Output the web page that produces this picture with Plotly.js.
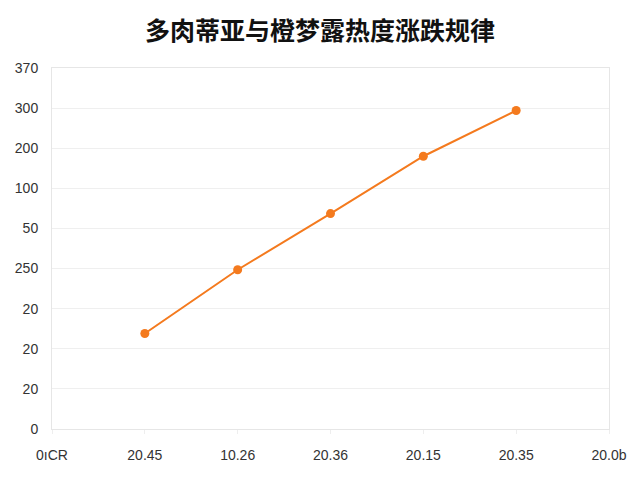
<!DOCTYPE html>
<html>
<head>
<meta charset="utf-8">
<script src="https://cdn.plot.ly/plotly-3.0.1.min.js"></script>
<style>
  html, body { margin: 0; padding: 0; background: #fff; }
  #chart { width: 640px; height: 480px; }
</style>
</head>
<body>
<div id="chart"></div>
<script>
var TITLE = "多肉蒂亚与橙梦露热度涨跌规律";

// x axis: tick labels as printed, at positions 0..6
var X_TICK_POS = [0, 1, 2, 3, 4, 5, 6];
var X_TICK_TEXT = ["0ıCR", "20.45", "10.26", "20.36", "20.15", "20.35", "20.0b"];

// y axis: gridline labels from bottom to top, at positions 0..9
var Y_TICK_POS = [0, 1, 2, 3, 4, 5, 6, 7, 8, 9];
var Y_TICK_TEXT = ["0", "20", "20", "20", "250", "50", "100", "200", "300", "370"];

// series, in grid-step units
var POINT_X = [1, 2, 3, 4, 5];
var POINT_Y = [2.38, 3.97, 5.37, 6.8, 7.94];

var ORANGE = "#F47A1E";
var GRID = "#efefef";

var trace = {
  x: POINT_X,
  y: POINT_Y,
  type: "scatter",
  mode: "lines+markers",
  line: { color: ORANGE, width: 2 },
  marker: { color: ORANGE, size: 9 },
  hoverinfo: "skip",
  showlegend: false
};

var layout = {
  width: 640,
  height: 480,
  margin: { t: 68, r: 31, b: 51, l: 52 },
  paper_bgcolor: "#ffffff",
  plot_bgcolor: "#ffffff",
  font: { family: "Liberation Sans, Arial, sans-serif", size: 14, color: "#333333" },
  title: {
    text: "<b>" + TITLE + "</b>",
    x: 0.5,
    xanchor: "center",
    y: 0.935,
    yanchor: "middle",
    font: { family: "Noto Sans CJK SC, sans-serif", size: 25, color: "#111111" }
  },
  xaxis: {
    range: [0, 6],
    tickmode: "array",
    tickvals: X_TICK_POS,
    ticktext: X_TICK_TEXT,
    showgrid: false,
    zeroline: false,
    showline: true,
    linecolor: "#e6e6e6",
    linewidth: 1,
    mirror: true,
    ticks: "outside",
    ticklen: 4,
    tickcolor: "#eeeeee",
    ticklabelstandoff: 9,
    fixedrange: true
  },
  yaxis: {
    range: [0, 9],
    tickmode: "array",
    tickvals: Y_TICK_POS,
    ticktext: Y_TICK_TEXT,
    showgrid: true,
    gridcolor: GRID,
    gridwidth: 1,
    zeroline: false,
    showline: true,
    linecolor: "#e6e6e6",
    linewidth: 1,
    mirror: true,
    ticks: "",
    ticklabelstandoff: 10,
    fixedrange: true
  }
};

Plotly.newPlot("chart", [trace], layout, { displayModeBar: false, staticPlot: true });
</script>
</body>
</html>
